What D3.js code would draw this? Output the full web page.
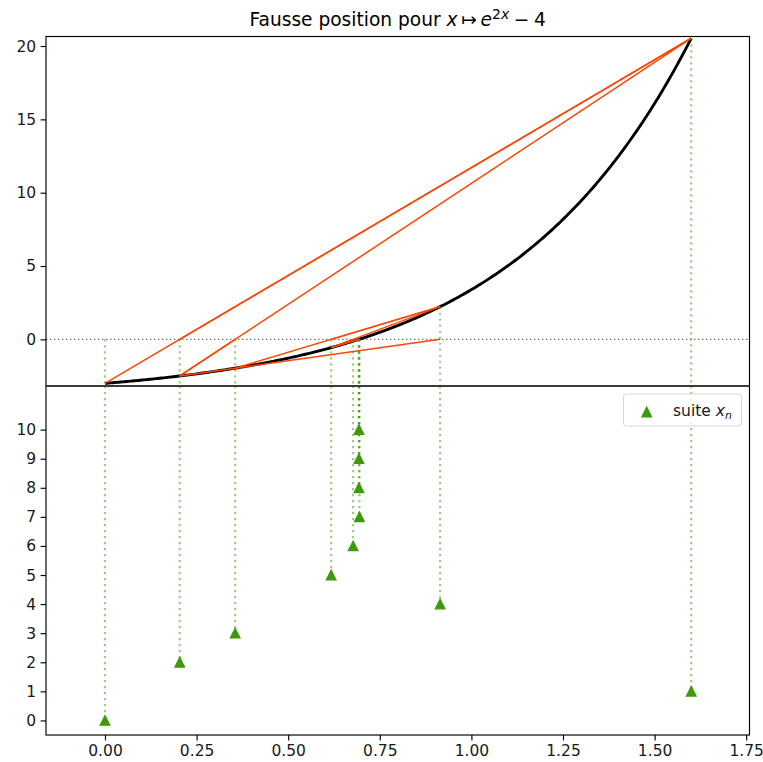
<!DOCTYPE html>
<html><head><meta charset="utf-8">
<script src="https://cdn.jsdelivr.net/npm/d3@7"></script>
<style>body{margin:0;background:#fff}svg{display:block}text{font-family:"DejaVu Sans",sans-serif}</style>
</head><body>
<script>
// Sequence x_n (secant / "fausse position" iterates)
const seqIndex = [0, 1, 2, 3, 4, 5, 6, 7, 8, 9, 10];
const seqX = [0, 1.6, 0.2040, 0.3553, 0.9147, 0.6173, 0.6772, 0.6944, 0.6931, 0.69315, 0.69315];
const xTicks = [0, 0.25, 0.5, 0.75, 1.0, 1.25, 1.5, 1.75];
const xTickLabels = ["0.00", "0.25", "0.50", "0.75", "1.00", "1.25", "1.50", "1.75"];
const yTopTicks = [0, 5, 10, 15, 20];
const yBotTicks = [0, 1, 2, 3, 4, 5, 6, 7, 8, 9, 10];
const curveRange = [0, 1.6];
const f = x => Math.exp(2 * x) - 4;

const W = 763, H = 762;
const L = 46, R = 749.5, T = 36.5, M = 386, B = 735;
const svg = d3.select("body").append("svg").attr("width", W).attr("height", H);

const x = d3.scaleLinear().domain([-0.161, 1.759]).range([L, R]);
const yT = d3.scaleLinear().domain([-3.18, 20.65]).range([M, T]);
const yB = d3.scaleLinear().domain([-0.5, 11.5]).range([B, M]);

const green = "#3f9a0a", red = "#ff4500";
const FS = 15.5;

const defs = svg.append("defs");
defs.append("clipPath").attr("id", "cT").append("rect").attr("x", L).attr("y", T).attr("width", R - L).attr("height", M - T);
defs.append("clipPath").attr("id", "cB").append("rect").attr("x", L).attr("y", M).attr("width", R - L).attr("height", B - M);

const gT = svg.append("g").attr("clip-path", "url(#cT)");
const gB = svg.append("g").attr("clip-path", "url(#cB)");

// zero line
gT.append("line").attr("x1", L).attr("x2", R).attr("y1", yT(0)).attr("y2", yT(0))
  .attr("stroke", "#7a7a7a").attr("stroke-width", 1.2).attr("stroke-dasharray", "1.5 2.5");

// curve
const samples = d3.range(0, 301).map(i => curveRange[0] + (curveRange[1] - curveRange[0]) * i / 300);
gT.append("path").datum(samples)
  .attr("d", d3.line().x(d => x(d)).y(d => yT(f(d))))
  .attr("fill", "none").attr("stroke", "#000").attr("stroke-width", 2.9);

// secant lines
const segs = [];
for (let n = 2; n < seqX.length; n++) {
  const a = seqX[n - 2], b = seqX[n - 1], c = seqX[n];
  segs.push([[a, f(a)], [b, f(b)]]);
  segs.push([[b, f(b)], [c, 0]]);
}
gT.selectAll("line.sec").data(segs).join("line").attr("class", "sec")
  .attr("x1", d => x(d[0][0])).attr("y1", d => yT(d[0][1]))
  .attr("x2", d => x(d[1][0])).attr("y2", d => yT(d[1][1]))
  .attr("stroke", red).attr("stroke-width", 1.5);

// green dotted verticals
const pts = seqIndex.map((n, i) => ({ n, x: seqX[i] }));
gT.selectAll("line.v").data(pts).join("line").attr("class", "v")
  .attr("x1", d => x(d.x)).attr("x2", d => x(d.x))
  .attr("y1", d => yT(Math.max(0, f(d.x)))).attr("y2", M)
  .attr("stroke", green).attr("stroke-opacity", 0.5).attr("stroke-width", 2.2).attr("stroke-dasharray", "2.2 3.8");
gB.selectAll("line.v").data(pts).join("line").attr("class", "v")
  .attr("x1", d => x(d.x)).attr("x2", d => x(d.x))
  .attr("y1", M).attr("y2", d => yB(d.n))
  .attr("stroke", green).attr("stroke-opacity", 0.5).attr("stroke-width", 2.2).attr("stroke-dasharray", "2.2 3.8");

// markers
function triPath(r) { return `M0,${-r}L${r},${r}L${-r},${r}Z`; }
gB.selectAll("path.m").data(pts).join("path").attr("class", "m")
  .attr("d", triPath(4.7))
  .attr("transform", d => `translate(${x(d.x)},${yB(d.n)})`)
  .attr("fill", green).attr("stroke", green).attr("stroke-width", 1.4);

// axes
const axT = svg.append("g").attr("transform", `translate(${L},0)`)
  .call(d3.axisLeft(yT).tickValues(yTopTicks).tickSize(5.4).tickPadding(4.5));
const axB = svg.append("g").attr("transform", `translate(${L},0)`)
  .call(d3.axisLeft(yB).tickValues(yBotTicks).tickSize(5.4).tickPadding(4.5));
const axX = svg.append("g").attr("transform", `translate(0,${B})`)
  .call(d3.axisBottom(x).tickValues(xTicks).tickFormat((d, i) => xTickLabels[i]).tickSize(5.4).tickPadding(4.5));
[axT, axB, axX].forEach(a => {
  a.select(".domain").remove();
  a.selectAll("line").attr("stroke", "#000").attr("stroke-width", 1.15);
  a.selectAll("text").attr("font-size", FS).attr("fill", "#1a1a1a").attr("font-family", "DejaVu Sans");
});

// spines
const sp = svg.append("g").attr("fill", "none").attr("stroke", "#000").attr("stroke-width", 1.15);
sp.append("rect").attr("x", L).attr("y", T).attr("width", R - L).attr("height", M - T);
sp.append("rect").attr("x", L).attr("y", M).attr("width", R - L).attr("height", B - M);
svg.append("line").attr("x1", L).attr("x2", R).attr("y1", M).attr("y2", M).attr("stroke", "#3a3a3a").attr("stroke-width", 1.8);

// legend
const lg = svg.append("g");
lg.append("rect").attr("x", 623.5).attr("y", 394).attr("width", 118).attr("height", 32).attr("rx", 3)
  .attr("fill", "#fff").attr("fill-opacity", 0.8).attr("stroke", "#d6d6d6").attr("stroke-width", 1);
lg.append("path").attr("d", triPath(4.7)).attr("transform", "translate(646.7,412)")
  .attr("fill", green).attr("stroke", green).attr("stroke-width", 1.4);
const lt = lg.append("text").attr("x", 673).attr("y", 415.5).attr("font-size", FS).attr("fill", "#1a1a1a");
lt.append("tspan").text("suite ");
lt.append("tspan").attr("font-style", "italic").text("x");
lt.append("tspan").attr("font-style", "italic").attr("font-size", 11).attr("dy", 3).text("n");

// title
const tt = svg.append("text").attr("x", (L + R) / 2).attr("y", 26).attr("text-anchor", "middle").attr("font-size", 18.6).attr("fill", "#000");
tt.append("tspan").text("Fausse position pour ");
tt.append("tspan").attr("font-style", "italic").text("x");
tt.append("tspan").text("\u2009\u21A6\u2009");
tt.append("tspan").attr("font-style", "italic").text("e");
tt.append("tspan").attr("font-size", 14).attr("dy", -7.5).text("2");
tt.append("tspan").attr("font-size", 14).attr("font-style", "italic").text("x");
tt.append("tspan").attr("dy", 7.5).text("\u2005\u2212\u20054");
</script>
</body></html>
